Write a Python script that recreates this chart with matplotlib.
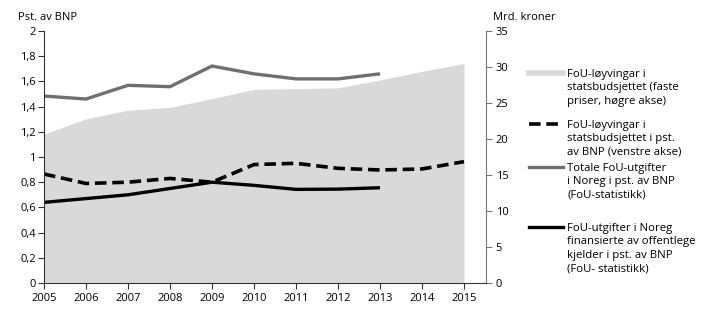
import matplotlib
matplotlib.use("Agg")
import matplotlib.pyplot as plt
from matplotlib.lines import Line2D
from matplotlib.ticker import FuncFormatter

plt.rcParams['font.family'] = ['Open Sans', 'DejaVu Sans']

years = [2005, 2006, 2007, 2008, 2009, 2010, 2011, 2012, 2013, 2014, 2015]
budget_mrd = [20.7, 22.8, 24.0, 24.4, 25.6, 26.9, 27.0, 27.1, 28.2, 29.4, 30.5]
budget_pct = [0.865, 0.79, 0.80, 0.83, 0.80, 0.94, 0.95, 0.91, 0.897, 0.905, 0.963]
years_stat = [2005, 2006, 2007, 2008, 2009, 2010, 2011, 2012, 2013]
total_pct = [1.484, 1.46, 1.569, 1.558, 1.722, 1.66, 1.62, 1.62, 1.66]
public_pct = [0.64, 0.67, 0.70, 0.75, 0.80, 0.775, 0.743, 0.745, 0.756]

labels = [
    "FoU-løyvingar i\nstatsbudsjettet (faste\npriser, høgre akse)",
    "FoU-løyvingar i\nstatsbudsjettet i pst.\nav BNP (venstre akse)",
    "Totale FoU-utgifter\ni Noreg i pst. av BNP\n(FoU-statistikk)",
    "FoU-utgifter i Noreg\nfinansierte av offentlege\nkjelder i pst. av BNP\n(FoU- statistikk)",
]

fig = plt.figure(figsize=(7.04, 3.34), dpi=100)
ax = fig.add_axes([44/704, 51/334, (486-44)/704, (283-31)/334])
ax2 = ax.twinx()

area_c = '#d9d9d9'
gray_c = '#6f6f6f'
ax2.fill_between(years, 0, budget_mrd, color=area_c, lw=0)
ax2.set_ylim(0, 35)
ax2.set_yticks(range(0, 36, 5))

ax.set_zorder(ax2.get_zorder() + 1)
ax.patch.set_visible(False)

ax.plot(years, budget_pct, color='black', lw=2.6, ls=(0, (3.2, 1.6)))
ax.plot(years_stat, total_pct, color=gray_c, lw=2.4, solid_capstyle='butt')
ax.plot(years_stat, public_pct, color='black', lw=2.4, solid_capstyle='butt')

ax.set_xlim(2005, 2015 + 22/42)
ax.set_ylim(0, 2)
ax.set_xticks(years)
ax.set_yticks([0, 0.2, 0.4, 0.6, 0.8, 1, 1.2, 1.4, 1.6, 1.8, 2])
ax.yaxis.set_major_formatter(FuncFormatter(lambda v, p: ('%g' % round(v, 1)).replace('.', ',')))

for a in (ax, ax2):
    a.spines['top'].set_visible(False)
ax.spines['right'].set_visible(False)
ax2.spines['left'].set_visible(False)
ax2.spines['bottom'].set_visible(False)
ax.spines['left'].set_color('#333333')
ax.spines['bottom'].set_color('#333333')
ax2.spines['right'].set_color('#777777')
ax.tick_params(axis='both', labelsize=8, length=4, color='#333333', pad=2)
ax.tick_params(axis='x', pad=3)
ax2.tick_params(axis='y', labelsize=8, length=4, color='#777777', pad=3)

fig.text(18/704, 1 - 17/334, "Pst. av BNP", fontsize=8, va='center', ha='left')
fig.text(493/704, 1 - 17/334, "Mrd. kroner", fontsize=8, va='center', ha='left')

# legend
handles = [
    dict(color=area_c, lw=4, ls='-'),
    dict(color='black', lw=2.6, ls=(0, (3.2, 1.6))),
    dict(color=gray_c, lw=2.4, ls='-'),
    dict(color='black', lw=2.4, ls='-'),
]
tops = [73, 124, 167, 227]
for lab, h, yt in zip(labels, handles, tops):
    yf = 1 - yt/334
    fig.add_artist(Line2D([529/704, 563/704], [yf, yf], transform=fig.transFigure, **h))
    fig.text(567/704, 1 - (yt - 4)/334, lab, fontsize=8.2, va='top', ha='left', linespacing=1.3)

fig.savefig("out.png", dpi=100)
